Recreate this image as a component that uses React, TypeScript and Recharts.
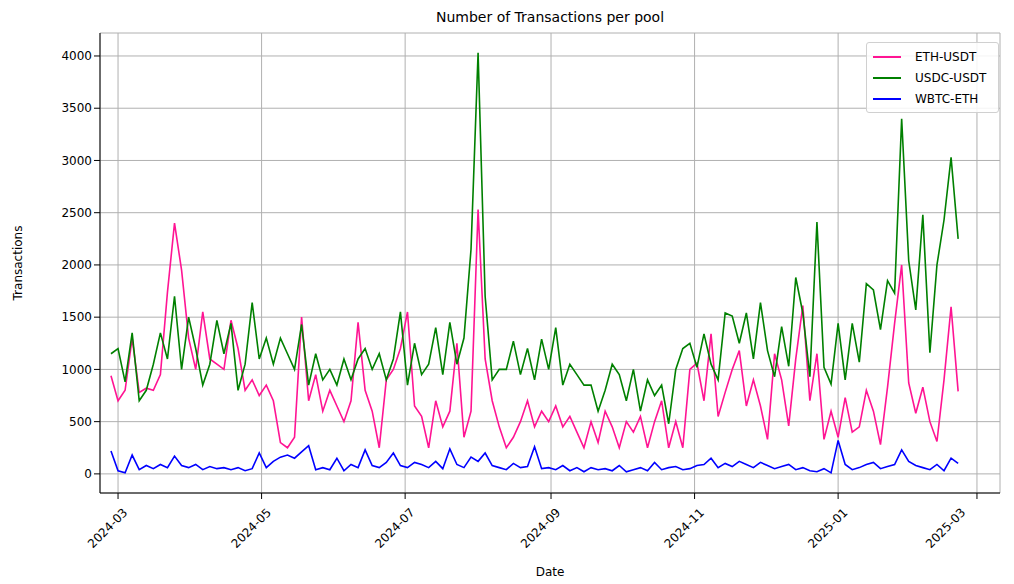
import { LineChart, Line, XAxis, YAxis, CartesianGrid } from 'recharts';

// one sample every 3 days starting 2024-02-27
const startDate = Date.UTC(2024, 1, 27);
const stepDays = 3;

const ethUsdt = [
  940, 700, 800, 1300, 780, 820, 800, 950, 1740, 2400,
  1950, 1300, 1000, 1550, 1100, 1050, 1000, 1470, 1200, 800,
  900, 750, 850, 700, 300, 250, 350, 1500, 700, 950,
  600, 800, 650, 500, 700, 1450, 800, 600, 250, 900,
  1000, 1200, 1550, 650, 550, 250, 700, 450, 600, 1250,
  350, 600, 2530, 1100, 700, 450, 250, 350, 500, 700,
  450, 600, 500, 650, 450, 550, 400, 250, 500, 300,
  600, 450, 250, 500, 400, 550, 250, 500, 700, 250,
  500, 250, 1000, 1060, 700, 1340, 550, 780, 1000, 1180,
  650, 900, 650, 330, 1150, 900, 460, 1100, 1610, 700,
  1150, 330, 600, 350, 730, 400, 450, 800, 600, 280,
  830, 1440, 2000, 870, 580, 830, 500, 310, 900, 1600, 790,
];

const usdcUsdt = [
  1150, 1200, 880, 1350, 700, 800, 1050, 1350, 1100, 1700,
  1000, 1500, 1200, 850, 1050, 1470, 1150, 1440, 800, 1050,
  1640, 1100, 1300, 1050, 1300, 1150, 1000, 1430, 850, 1150,
  900, 1000, 850, 1100, 900, 1100, 1200, 1000, 1150, 900,
  1100, 1550, 850, 1250, 950, 1050, 1400, 950, 1450, 1050,
  1300, 2150, 4030, 1700, 900, 1000, 1000, 1270, 950, 1200,
  900, 1290, 1000, 1400, 850, 1050, 950, 850, 850, 600,
  800, 1050, 950, 700, 1000, 600, 900, 750, 850, 480,
  1000, 1200, 1250, 1020, 1340, 1050, 900, 1540, 1510, 1250,
  1540, 1100, 1640, 1180, 930, 1410, 1030, 1880, 1540, 930,
  2410, 1020, 860, 1440, 900, 1440, 1070, 1820, 1760, 1380,
  1850, 1730, 3400, 2040, 1570, 2480, 1160, 2000, 2430, 3030, 2250,
];

const wbtcEth = [
  220, 30, 10, 180, 40, 80, 50, 90, 60, 170,
  80, 60, 90, 40, 70, 50, 60, 40, 60, 30,
  50, 200, 60, 120, 160, 180, 150, 210, 270, 40,
  60, 40, 150, 30, 90, 60, 230, 80, 60, 110,
  200, 80, 60, 110, 90, 60, 120, 50, 240, 90,
  60, 160, 120, 200, 80, 60, 40, 100, 60, 70,
  260, 50, 60, 40, 80, 30, 60, 20, 60, 40,
  50, 30, 80, 20, 40, 60, 30, 110, 40, 60,
  70, 40, 50, 80, 90, 150, 60, 100, 70, 120,
  90, 60, 110, 80, 50, 70, 90, 40, 60, 30,
  20, 50, 10, 320, 90, 40, 60, 90, 110, 50,
  70, 90, 230, 120, 80, 60, 40, 90, 30, 150, 100,
];

const xTicks = ['2024-03', '2024-05', '2024-07', '2024-09', '2024-11', '2025-01', '2025-03'];
const yTicks = [0, 500, 1000, 1500, 2000, 2500, 3000, 3500, 4000];

const DAY = 86400000;
const data = ethUsdt.map((v, i) => ({
  t: startDate + i * stepDays * DAY,
  eth: v,
  usdc: usdcUsdt[i],
  wbtc: wbtcEth[i],
}));

const tickValues = xTicks.map((s) => {
  const [y, m] = s.split('-').map(Number);
  return Date.UTC(y, m - 1, 1);
});

const fmtMonth = (t: number) => {
  const d = new Date(t);
  return `${d.getUTCFullYear()}-${String(d.getUTCMonth() + 1).padStart(2, '0')}`;
};

const font = 'DejaVu Sans, sans-serif';

const DateTick = ({ x, y, payload }: any) => (
  <text
    x={x + 4}
    y={y + 6}
    transform={`rotate(-45 ${x + 4} ${y + 6})`}
    textAnchor="end"
    dominantBaseline="hanging"
    fontSize={12}
    fontFamily={font}
    fill="#000"
  >
    {fmtMonth(payload.value)}
  </text>
);

const series = [
  { key: 'eth', name: 'ETH-USDT', color: '#ff1493' },
  { key: 'usdc', name: 'USDC-USDT', color: '#008000' },
  { key: 'wbtc', name: 'WBTC-ETH', color: '#0000ff' },
];

export default function App() {
  return (
    <div style={{ position: 'relative', width: 1000, height: 570, fontFamily: font }}>
      <div
        style={{
          position: 'absolute',
          top: 1,
          left: 92,
          width: 900,
          textAlign: 'center',
          fontSize: 14,
          zIndex: 2,
        }}
      >
        Number of Transactions per pool
      </div>
      <div
        style={{
          position: 'absolute',
          top: 34,
          left: 858,
          width: 117,
          zIndex: 2,
          border: '1px solid #d0d0d0',
          borderRadius: 3,
          background: 'rgba(255,255,255,0.85)',
          padding: '3px 8px 3px 6px',
          fontSize: 12,
        }}
      >
        {series.map((s) => (
          <div key={s.key} style={{ display: 'flex', alignItems: 'center', height: 21 }}>
            <span style={{ display: 'inline-block', width: 28, height: 2, background: s.color, marginRight: 14 }} />
            {s.name}
          </div>
        ))}
      </div>
      <LineChart width={1000} height={570} data={data} margin={{ top: 25, right: 8, left: 32, bottom: 0 }}>
        <CartesianGrid stroke="#b0b0b0" strokeWidth={1} />
        <XAxis
          dataKey="t"
          type="number"
          domain={[Date.UTC(2024, 1, 22, 8), Date.UTC(2025, 2, 10, 19)]}
          ticks={tickValues}
          tick={<DateTick />}
          tickLine={{ stroke: '#000' }}
          axisLine={{ stroke: '#000' }}
          stroke="#000"
          height={85}
          label={{ value: 'Date', position: 'insideBottom', offset: 2, fontSize: 12, fill: '#000', fontFamily: font }}
          allowDataOverflow
        />
        <YAxis
          type="number"
          domain={[-183, 4220]}
          ticks={yTicks}
          width={60}
          tick={{ fontSize: 12, fill: '#000', fontFamily: font }}
          tickLine={{ stroke: '#000' }}
          axisLine={{ stroke: '#000' }}
          stroke="#000"
          allowDataOverflow
          label={{ value: 'Transactions', angle: -90, position: 'insideLeft', offset: 0, dx: -22, fontSize: 12, fill: '#000', fontFamily: font, style: { textAnchor: 'middle' } }}
        />
        {series.map((s) => (
          <Line
            key={s.key}
            type="linear"
            dataKey={s.key}
            name={s.name}
            stroke={s.color}
            strokeWidth={1.6}
            dot={false}
            isAnimationActive={false}
          />
        ))}
      </LineChart>
    </div>
  );
}
